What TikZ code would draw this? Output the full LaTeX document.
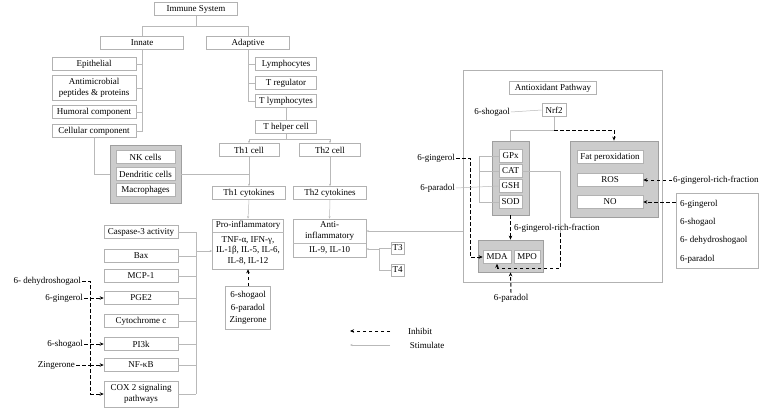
\documentclass[tikz,border=0pt]{standalone}
\usepackage{fontspec}
\setmainfont{Liberation Serif}
\usetikzlibrary{arrows.meta,positioning}
\begin{document}
\begin{tikzpicture}[x=1pt,y=-1pt,
  font=\fontsize{9}{10.5}\selectfont,
  box/.style={draw=gray!60,line width=0.6pt,fill=white,minimum height=13pt,inner sep=1pt,align=center},
  grp/.style={draw=gray!75,line width=0.8pt,fill=gray!40,inner sep=0pt},
  txt/.style={inner sep=1pt,align=center},
  stim/.style={draw=gray!55,line width=0.5pt},
  sa/.style={stim,-{Stealth[length=2.5pt,width=2pt]}},
  inh/.style={draw=black,line width=1pt,dash pattern=on 3.5pt off 2.5pt},
  ia/.style={inh,-{Stealth[length=4pt,width=3.5pt]}}]
\useasboundingbox (0,0) rectangle (767,409);
% top
\node[box,minimum width=83] (immune) at (196,9) {Immune System};
\node[box,minimum width=83] (innate) at (142,43) {Innate};
\node[box,minimum width=83] (adaptive) at (248,43) {Adaptive};
\draw[stim] (immune.south) -- (196,26) -| (innate.north);
\draw[stim] (196,26) -| (adaptive.north);
% innate column
\node[box,minimum width=84] (epi) at (94,64) {Epithelial};
\node[box,minimum width=84,minimum height=25] (anti-m) at (94,88) {Antimicrobial\\peptides \& proteins};
\node[box,minimum width=84] (hum) at (94,112) {Humoral component};
\node[box,minimum width=84] (cel) at (94,131) {Cellular component};
\draw[stim] (innate.south) -- (innate.south |- cel.east) -- (cel.east);
\foreach \n in {epi,anti-m,hum} \draw[stim] (\n.east) -- (innate.south |- \n.east);
% adaptive column
\node[box,minimum width=61] (lym) at (286,64) {Lymphocytes};
\node[box,minimum width=61] (treg) at (286,83) {T regulator};
\node[box,minimum width=61] (tlym) at (286,101) {T lymphocytes};
\draw[stim] (adaptive.south) -- (adaptive.south |- tlym.west) -- (tlym.west);
\foreach \n in {lym,treg} \draw[stim] (\n.west) -- (adaptive.south |- \n.west);
\node[box,minimum width=61] (thelp) at (286,127) {T helper cell};
\draw[stim] (tlym.south) -- (thelp.north);
\node[box,minimum width=60] (th1) at (249,150) {Th1 cell};
\node[box,minimum width=61] (th2) at (330,150) {Th2 cell};
\coordinate (tj) at (286,139);
\draw[stim] (thelp.south) -- (tj);
\draw[sa] (tj) -| (th1.north);
\draw[sa] (tj) -| (th2.north);
% NK group
\node[grp,minimum width=71,minimum height=58] (nkg) at (145.5,174) {};
\node[box,minimum width=59] (nk) at (145.5,157) {NK cells};
\node[box,minimum width=59] (den) at (145.5,174) {Dendritic cells};
\node[box,minimum width=59] (mac) at (145.5,190) {Macrophages};
\draw[stim] (cel.south) |- (nkg.west);
\node[box,minimum width=73] (th1c) at (249,193) {Th1 cytokines};
\node[box,minimum width=73] (th2c) at (330,193) {Th2 cytokines};
\draw[sa] (th1.south) -- (th1c.north);
\draw[sa] (th2.south) -- (th2c.north);
\draw[stim] (nkg.east) -- (nkg.east -| th1c.north);
% pro / anti
\node[box,minimum width=71,minimum height=50] (pro) at (248,244) {};
\node[txt] at (248,225.5) {Pro-inflammatory};
\draw[stim] (212.5,232) -- (283.5,232);
\node[txt] at (248,250.5) {TNF-α, IFN-γ,\\IL-1β, IL-5, IL-6,\\IL-8, IL-12};
\node[box,minimum width=73,minimum height=38] (anti) at (329.5,238) {};
\node[txt] at (329.5,231) {Anti-\\inflammatory};
\draw[stim] (293,243) -- (366,243);
\node[txt] at (329.5,250) {IL-9, IL-10};
\draw[sa] (th1c.south) -- (pro.north);
\draw[sa] (th2c.south) -- (anti.north);
\node[box,minimum width=13,minimum height=12] (t3) at (397.5,248) {T3};
\node[box,minimum width=13,minimum height=12] (t4) at (397.5,270) {T4};
\coordinate (tq) at (379,249);
\draw[stim] (t3.west) -| (tq);
\draw[stim] (t4.west) -| (tq);
\draw[sa] (tq) -- (anti.east |- tq);
% left list
\foreach \n/\y/\t in {cas/232/Caspase-3 activity,bax/256/Bax/Bcl-2 ratio,mcp/276/MCP-1,pge/298/PGE2,cyt/321/Cytochrome c,pik/344/PI3k/Akt,nfk/365/NF-κB}
  \node[box,minimum width=74] (\n) at (141,\y) {\t};
\node[box,minimum width=74,minimum height=26] (cox) at (141,394) {COX 2 signaling\\pathways};
\coordinate (bus) at (196,251);
\foreach \n in {cas,bax,mcp,pge,cyt,pik,nfk,cox} \draw[stim] (\n.east) -- (\n.east -| bus);
\draw[stim] (cas.east -| bus) -- (cox.east -| bus);
\draw[sa] (bus) -- (pro.west |- bus);
% left inhibitors
\node[txt,anchor=east] (dhs) at (82,281) {6- dehydroshogaol};
\node[txt,anchor=east] (g1) at (84,298) {6-gingerol};
\node[txt,anchor=east] (s1) at (84,344) {6-shogaol};
\node[txt,anchor=east] (z1) at (76,365) {Zingerone};
\coordinate (dx) at (90,281);
\draw[inh] (dhs.east) -- (dx) -- (dx |- cox.west);
\draw[ia] (dx |- cox.west) -- (cox.west);
\foreach \n/\m in {g1/pge,s1/pik,z1/nfk} {
  \draw[inh] (\n.east) -- (\n.east -| dx);
  \draw[ia] (\n.east -| dx) -- (\m.west);}
\node[box,minimum width=45,minimum height=43] (szb) at (248,308) {6-shogaol\\[2pt]6-paradol\\[2pt]Zingerone};
\draw[ia] (szb.north) -- (pro.south);
% legend
\coordinate (l1a) at (390,331); \coordinate (l1b) at (350,331);
\coordinate (l2a) at (390,345); \coordinate (l2b) at (350,345);
\draw[ia] (l1a) -- (l1b);
\draw[sa] (l2a) -- (l2b);
\node[txt] (inhl) at (420,331) {Inhibit};
\node[txt] (stml) at (427,345) {Stimulate};
% antioxidant
\node[draw=gray!60,line width=0.6pt,minimum width=199,minimum height=212,inner sep=0pt] (outer) at (562.5,176) {};
\node[box,minimum width=87] (aop) at (553,88) {Antioxidant Pathway};
\node[txt] (sh2) at (492,112) {6-shogaol};
\node[box,minimum width=24] (nrf) at (554,110) {Nrf2};
\draw[stim] (sh2.east) -- (nrf.west);
\node[grp,minimum width=37,minimum height=74] (aog) at (510.5,178) {};
\node[grp,minimum width=88,minimum height=76] (fatg) at (614,179) {};
\node[box,minimum width=23] (gpx) at (510.5,156) {GPx};
\node[box,minimum width=23] (cat) at (510.5,171) {CAT};
\node[box,minimum width=23] (gsh) at (510.5,186) {GSH};
\node[box,minimum width=23] (sod) at (510.5,202) {SOD};
\node[box,minimum width=66] (fat) at (610,157) {Fat peroxidation};
\node[box,minimum width=66] (ros) at (610,180) {ROS};
\node[box,minimum width=66] (no) at (610,202) {NO};
\coordinate (n1) at (554,130);
\draw[stim] (nrf.south) -- (n1) -| (aog.north);
\draw[ia] (n1) -| (fatg.north);
\node[grp,minimum width=65,minimum height=32] (mdag) at (510.5,256) {};
\node[box,minimum width=28] (mda) at (497,257) {MDA};
\node[box,minimum width=26] (mpo) at (527,257) {MPO};
\node[txt,anchor=east] (g2) at (456,158) {6-gingerol};
\node[txt,anchor=east] (p2) at (456,188) {6-paradol};
\coordinate (gx) at (470,0);
\draw[ia] (g2.east) -| (mda.west -| gx) -- (mda.west);
\coordinate (bx) at (479,0);
\draw[stim] (gpx.west -| bx) -- (sod.west -| bx);
\foreach \n in {gpx,cat,sod} \draw[stim] (\n.west) -- (\n.west -| bx);
\draw[stim] (p2.east) -- (gsh.west);
\coordinate (c1) at (560,233);
\coordinate (c2) at (560,268);
\draw[stim] (cat.east) -| (c1);
\draw[ia] (c1) -- (c2) -| (mda.south);
\node[txt,anchor=west] (grf1) at (513,228) {6-gingerol-rich-fraction};
\draw[ia] (aog.south) -- (mdag.north);
\node[txt] (p3) at (511,298) {6-paradol};
\draw[ia] (p3.north) -- (mdag.south);
\node[txt,anchor=west] (grf2) at (672,180) {6-gingerol-rich-fraction};
\draw[ia] (grf2.west) -- (ros.east);
\node[draw=gray!60,line width=0.6pt,minimum width=82,minimum height=75,inner sep=0pt] (rbox) at (717,230.5) {};
\node[txt,anchor=west] at (679,204) {6-gingerol};
\node[txt,anchor=west] at (679,222) {6-shogaol};
\node[txt,anchor=west] at (679,240) {6- dehydroshogaol};
\node[txt,anchor=west] at (679,259) {6-paradol};
\draw[ia] (no.east -| rbox.west) -- (no.east);
\coordinate (lx) at (0,231);
\draw[sa] (outer.west |- lx) -- (anti.east |- lx);
\end{tikzpicture}
\end{document}
